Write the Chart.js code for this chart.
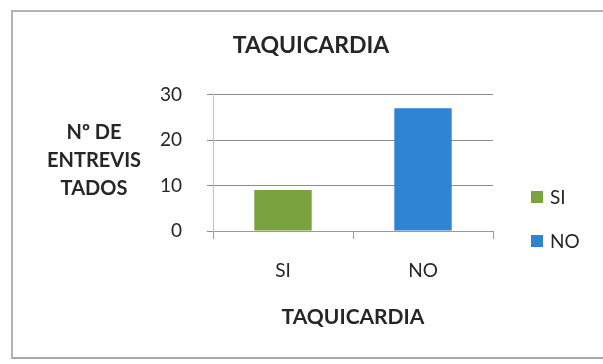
<!DOCTYPE html>
<html>
<head>
<meta charset="utf-8">
<script src="https://cdn.jsdelivr.net/npm/chart.js@4.4.1/dist/chart.umd.min.js"></script>
<style>
  html, body { margin: 0; padding: 0; background: #fff; }
  #wrap { position: relative; width: 603px; height: 364px; overflow: hidden; }
  #frame {
    position: absolute; left: 11px; top: 10px; width: 600px; height: 345px;
    border-left: 2px solid #b4b4b8; border-top: 2px solid #b4b4b8; border-bottom: 2px solid #a8a8a8;
    pointer-events: none;
  }
</style>
</head>
<body>
<div id="wrap">
  <canvas id="chart" width="603" height="364"></canvas>
  <div id="frame"></div>
</div>
<script>
// data
const categories = ["SI", "NO"];
const values = [9, 27];
const barColors = ["#7aa23f", "#2f83d3"];
const yTicks = [0, 10, 20, 30];
const chartTitle = "TAQUICARDIA";
const xTitle = "TAQUICARDIA";
const yTitleLines = ["Nº DE", "ENTREVIS", "TADOS"];

const FONT = 'Lato, "Open Sans", sans-serif';
const TEXT = "#262626";

// horizontal, multi-line y title (Excel style)
const yTitlePlugin = {
  id: "yTitle",
  afterDraw(chart) {
    const { ctx, chartArea } = chart;
    const cx = chartArea.left - 119;
    const mid = (chartArea.top + chartArea.bottom) / 2 - 2;
    ctx.save();
    ctx.font = "bold 20px " + FONT;
    ctx.fillStyle = TEXT;
    ctx.textAlign = "center";
    ctx.textBaseline = "middle";
    yTitleLines.forEach((t, i) => {
      ctx.fillText(t, cx, mid + (i - 1) * 28);
    });
    ctx.restore();
  }
};

// legend on the right, one entry per category
const sideLegend = {
  id: "sideLegend",
  afterDraw(chart) {
    const { ctx, chartArea } = chart;
    const x = chartArea.right + 38;
    const y0 = chartArea.bottom - 34;
    ctx.save();
    ctx.font = "19px " + FONT;
    ctx.textBaseline = "middle";
    categories.forEach((c, i) => {
      const y = y0 + i * 44;
      ctx.fillStyle = barColors[i];
      ctx.fillRect(x, y - 6, 12, 12);
      ctx.fillStyle = TEXT;
      ctx.fillText(c, x + 19, y + 1);
    });
    ctx.restore();
  }
};

new Chart(document.getElementById("chart"), {
  type: "bar",
  data: {
    labels: categories,
    datasets: [{
      label: chartTitle,
      data: values,
      backgroundColor: barColors,
      borderWidth: 0,
      barPercentage: 0.41,
      categoryPercentage: 1
    }]
  },
  options: {
    responsive: false,
    animation: false,
    layout: { padding: { left: 129, right: 110, top: 0, bottom: 20 } },
    plugins: {
      legend: { display: false },
      tooltip: { enabled: false },
      title: {
        display: true,
        text: chartTitle,
        color: TEXT,
        font: { family: FONT, size: 23, weight: "bold" },
        padding: { top: 32, bottom: 35 }
      }
    },
    scales: {
      x: {
        grid: { display: true, drawOnChartArea: false, tickLength: 8, color: "#9a9a9a", offset: true },
        border: { color: "#9a9a9a", width: 1 },
        ticks: { color: TEXT, padding: 20, font: { family: FONT, size: 19 } },
        title: {
          display: true,
          text: xTitle,
          color: TEXT,
          font: { family: FONT, size: 21, weight: "bold" },
          padding: { top: 3, bottom: 14 }
        }
      },
      y: {
        min: 0,
        max: 30,
        afterBuildTicks(scale) { scale.ticks = yTicks.map(v => ({ value: v })); },
        afterFit(scale) { scale.width = 84; },
        grid: { color: "#8c8c8c", tickLength: 6 },
        border: { color: "#c4c4c4", width: 1 },
        ticks: { color: TEXT, padding: 25, font: { family: FONT, size: 19 } }
      }
    }
  },
  plugins: [yTitlePlugin, sideLegend]
});
</script>
</body>
</html>
